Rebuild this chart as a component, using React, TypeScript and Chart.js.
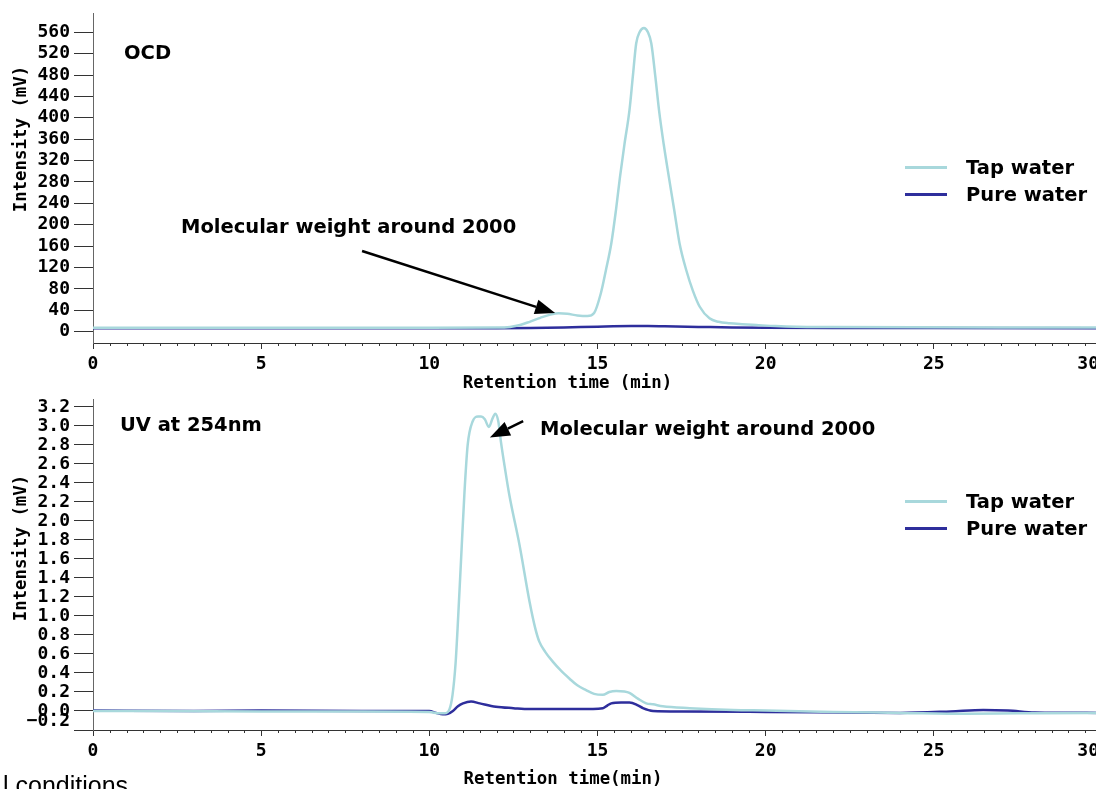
import React, { useEffect, useRef } from 'react';
import { Chart, registerables } from 'chart.js';

Chart.register(...registerables);

// ---------- data ----------
const SERIES_NAMES = ['Tap water', 'Pure water'];
const SERIES_COLORS = ['#a8d8dc', '#2e2e9c'];

const X_TICKS = [0, 5, 10, 15, 20, 25, 30];
const X_MINOR_STEP = 0.5;
const OCD_Y_TICKS = [0, 40, 80, 120, 160, 200, 240, 280, 320, 360, 400, 440, 480, 520, 560];
const UV_Y_TICKS = [-0.2, 0, 0.2, 0.4, 0.6, 0.8, 1.0, 1.2, 1.4, 1.6, 1.8, 2.0, 2.2, 2.4, 2.6, 2.8, 3.0, 3.2];

const OCD_TAP_T = [0, 5, 10, 12.0, 12.4, 12.7, 13.0, 13.3, 13.6, 13.85, 14.1, 14.4, 14.7, 14.9, 15.1, 15.25, 15.41, 15.55, 15.67, 15.8, 15.95, 16.05, 16.15, 16.25, 16.38, 16.5, 16.6, 16.72, 16.83, 16.97, 17.12, 17.28, 17.44, 17.64, 17.84, 18.04, 18.33, 18.6, 18.93, 19.3, 19.72, 20.3, 20.91, 22, 24.4, 27, 30];
const OCD_TAP_V = [7.5, 7.5, 7.5, 7.8, 9, 12.5, 19, 26, 32, 34.4, 33.5, 30.5, 29.3, 35, 72, 115, 165, 228, 290, 350, 414, 477, 539, 560, 568, 560, 539, 477, 414, 350, 290, 228, 165, 115, 76, 46.7, 25, 18.5, 15.7, 14, 12.5, 10.5, 9.3, 8.8, 8.2, 8, 8];

const OCD_PURE_T = [0, 5, 10, 12, 13, 14, 15, 16, 16.5, 17, 18, 19, 20, 22, 25, 30];
const OCD_PURE_V = [6.5, 6.5, 6.5, 6.5, 7, 8, 9.5, 10.5, 10.5, 10, 9, 8, 7.5, 7, 6.8, 6.5];

const UV_TAP_T = [0, 2, 5, 8, 10, 10.3, 10.45, 10.6, 10.69, 10.78, 10.84, 10.94, 11.04, 11.14, 11.29, 11.45, 11.54, 11.65, 11.77, 11.88, 11.96, 12.05, 12.13, 12.25, 12.38, 12.68, 12.98, 13.15, 13.27, 13.45, 13.67, 13.9, 14.17, 14.4, 14.66, 14.9, 15.16, 15.35, 15.56, 15.8, 15.95, 16.2, 16.45, 16.65, 16.94, 17.74, 19.03, 20, 22, 24, 25.97, 27.5, 29.7, 30];
const UV_TAP_V = [0, 0, -0.005, -0.005, -0.01, -0.025, -0.025, 0.02, 0.17, 0.5, 0.87, 1.57, 2.27, 2.8, 3.05, 3.1, 3.1, 3.07, 2.99, 3.08, 3.13, 3.05, 2.83, 2.55, 2.27, 1.75, 1.15, 0.87, 0.73, 0.62, 0.52, 0.43, 0.34, 0.27, 0.22, 0.18, 0.17, 0.2, 0.21, 0.205, 0.19, 0.13, 0.08, 0.07, 0.05, 0.03, 0.01, 0.005, -0.01, -0.02, -0.03, -0.025, -0.02, -0.02];

const UV_PURE_T = [0, 3, 5, 8, 10, 10.2, 10.4, 10.55, 10.7, 10.85, 11.0, 11.24, 11.5, 11.98, 12.5, 12.98, 14.46, 15.16, 15.3, 15.41, 15.7, 15.95, 16.2, 16.35, 16.65, 17.5, 20, 24, 25.5, 26.47, 27.2, 28, 30];
const UV_PURE_V = [0.005, 0, 0.005, 0, 0, -0.02, -0.035, -0.03, 0, 0.05, 0.08, 0.1, 0.08, 0.045, 0.03, 0.02, 0.02, 0.03, 0.06, 0.08, 0.09, 0.09, 0.06, 0.03, 0, -0.005, -0.01, -0.02, -0.005, 0.01, 0.005, -0.015, -0.02];

// annotation arrows, in data units: [tailT, tailV, tipT, tipV]
const OCD_ARROW = [8.0, 151, 13.74, 35];
const UV_ARROW = [12.79, 3.05, 11.8, 2.88];

const ANNOTATION_TEXT = 'Molecular weight around 2000';

// ---------- layout ----------
const CANVAS_W = 1120;
const PLOT_LEFT = 93;
const PLOT_RIGHT = 1102;
const MONO = "'DejaVu Sans Mono', monospace";
const SANS = "'DejaVu Sans', sans-serif";
const MONO_SIZE = 17.4;
const TICK_SIZE = 18;

const minorTickPlugin = {
  id: 'minorTicks',
  afterDraw(chart: any) {
    const xs = chart.scales.x;
    const ctx = chart.ctx;
    ctx.save();
    ctx.strokeStyle = '#333';
    ctx.lineWidth = 1;
    const n = Math.round((xs.max - xs.min) / X_MINOR_STEP);
    for (let i = 0; i <= n; i++) {
      const t = xs.min + i * X_MINOR_STEP;
      if (X_TICKS.includes(t)) continue;
      const px = Math.round(xs.getPixelForValue(t)) + 0.5;
      ctx.beginPath();
      ctx.moveTo(px, xs.top);
      ctx.lineTo(px, xs.top + 3);
      ctx.stroke();
    }
    ctx.restore();
  },
};

const edgeLabelPlugin = {
  id: 'edgeLabels',
  beforeDraw(chart: any, _a: any, opts: any) {
    try {
      const xs = chart.scales.x;
      const xi = xs.getLabelItems();
      const last = xi[xi.length - 1];
      if (last && opts.xLastRight) {
        last.options.textAlign = 'right';
        last.options.translation = [opts.xLastRight, last.options.translation[1]];
      }
      if (opts.yFirstShift) {
        const ys = chart.scales.y;
        const yi = ys.getLabelItems();
        const first = yi[0];
        if (first) {
          first.options.translation = [first.options.translation[0], ys.getPixelForValue(ys.ticks[0].value) - opts.yFirstShift];
        }
      }
    } catch (e) {
      /* ignore */
    }
  },
};

const arrowPlugin = {
  id: 'arrow',
  afterDatasetsDraw(chart: any, _a: any, opts: any) {
    const a = opts.arrow;
    if (!a) return;
    const xs = chart.scales.x;
    const ys = chart.scales.y;
    const x1 = xs.getPixelForValue(a[0]);
    const y1 = ys.getPixelForValue(a[1]);
    const x2 = xs.getPixelForValue(a[2]);
    const y2 = ys.getPixelForValue(a[3]);
    const ang = Math.atan2(y2 - y1, x2 - x1);
    const headLen = 20;
    const headHalf = 7.5;
    const bx = x2 - headLen * Math.cos(ang);
    const by = y2 - headLen * Math.sin(ang);
    const ctx = chart.ctx;
    ctx.save();
    ctx.strokeStyle = '#000';
    ctx.fillStyle = '#000';
    ctx.lineWidth = 2.5;
    ctx.beginPath();
    ctx.moveTo(x1, y1);
    ctx.lineTo(bx, by);
    ctx.stroke();
    ctx.beginPath();
    ctx.moveTo(x2, y2);
    ctx.lineTo(bx + headHalf * Math.sin(ang), by - headHalf * Math.cos(ang));
    ctx.lineTo(bx - headHalf * Math.sin(ang), by + headHalf * Math.cos(ang));
    ctx.closePath();
    ctx.fill();
    ctx.restore();
  },
};

type Series = { t: number[]; v: number[] };

function ChromChart(props: {
  top: number;
  height: number;
  plotTop: number;
  plotBottom: number;
  yMin: number;
  yMax: number;
  yTicks: number[];
  yFormat: (v: number) => string;
  series: Series[];
  arrow: number[];
  yFirstShift: number;
}) {
  const ref = useRef<HTMLCanvasElement | null>(null);
  useEffect(() => {
    if (!ref.current) return;
    const tickFont = { family: MONO, size: TICK_SIZE, weight: 'bold' as const, lineHeight: 1 };
    const chart = new Chart(ref.current, {
      type: 'line',
      data: {
        datasets: props.series.map((s, i) => ({
          label: SERIES_NAMES[i],
          data: s.t.map((t, k) => ({ x: t, y: s.v[k] })),
          borderColor: SERIES_COLORS[i],
          backgroundColor: SERIES_COLORS[i],
          borderWidth: 2.5,
          pointRadius: 0,
          fill: false,
          cubicInterpolationMode: 'monotone' as const,
        })),
      },
      options: {
        responsive: false,
        animation: false,
        devicePixelRatio: 1,
        events: [],
        layout: {
          padding: { top: props.plotTop, right: CANVAS_W - PLOT_RIGHT, left: 0, bottom: 0 },
        },
        plugins: {
          legend: { display: false },
          tooltip: { enabled: false },
          edgeLabels: { xLastRight: 1099, yFirstShift: props.yFirstShift },
          arrow: { arrow: props.arrow },
        } as any,
        scales: {
          x: {
            type: 'linear',
            min: X_TICKS[0],
            max: X_TICKS[X_TICKS.length - 1],
            afterBuildTicks: (s: any) => {
              s.ticks = X_TICKS.map((v) => ({ value: v }));
            },
            afterFit: (s: any) => {
              s.height = props.height - props.plotBottom;
            },
            grid: { drawOnChartArea: false, drawTicks: true, tickLength: 6, tickColor: '#333', tickWidth: 1 },
            border: { color: '#333', width: 1 },
            ticks: {
              font: tickFont,
              color: '#000',
              padding: 6,
              maxRotation: 0,
              autoSkip: false,
              callback: (v: any) => String(v),
            },
          },
          y: {
            type: 'linear',
            min: props.yMin,
            max: props.yMax,
            afterBuildTicks: (s: any) => {
              s.ticks = props.yTicks.map((v) => ({ value: v }));
            },
            afterFit: (s: any) => {
              s.width = PLOT_LEFT;
            },
            grid: { drawOnChartArea: false, drawTicks: true, tickLength: 19, tickColor: '#333', tickWidth: 1 },
            border: { color: '#666', width: 1 },
            ticks: {
              font: tickFont,
              color: '#000',
              padding: 4,
              autoSkip: false,
              callback: (v: any) => props.yFormat(Number(v)),
            },
          },
        },
      } as any,
      plugins: [minorTickPlugin, edgeLabelPlugin, arrowPlugin],
    });
    return () => chart.destroy();
  }, []);
  return (
    <canvas
      ref={ref}
      width={CANVAS_W}
      height={props.height}
      style={{ position: 'absolute', left: 0, top: props.top, width: CANVAS_W, height: props.height }}
    />
  );
}

const boldText: React.CSSProperties = {
  position: 'absolute',
  fontFamily: SANS,
  fontWeight: 'bold',
  fontSize: 19.5,
  lineHeight: '19.5px',
  whiteSpace: 'nowrap',
  color: '#000',
};

const monoText: React.CSSProperties = {
  position: 'absolute',
  fontFamily: MONO,
  fontWeight: 'bold',
  fontSize: MONO_SIZE,
  lineHeight: `${MONO_SIZE}px`,
  whiteSpace: 'nowrap',
  color: '#000',
};

function Legend(props: { top: number }) {
  return (
    <>
      {SERIES_NAMES.map((name, i) => (
        <React.Fragment key={name}>
          <div
            style={{
              position: 'absolute',
              left: 905,
              top: props.top + i * 27 + 6.5,
              width: 42,
              height: 3,
              background: SERIES_COLORS[i],
            }}
          />
          <div style={{ ...boldText, left: 966, top: props.top + i * 27 - 1 }}>{name}</div>
        </React.Fragment>
      ))}
    </>
  );
}

export default function App() {
  const fmtOcd = (v: number) => String(Math.round(v));
  const fmtUv = (v: number) => {
    const s = v.toFixed(1);
    return s === '-0.0' ? '0.0' : s.replace('-', '\u2212');
  };
  return (
    <div
      style={{
        position: 'fixed',
        left: 0,
        top: 0,
        width: 1096,
        height: 789,
        overflow: 'hidden',
        background: '#fff',
      }}
    >
      <ChromChart
        top={0}
        height={375}
        plotTop={13}
        plotBottom={343}
        yMin={-21.1}
        yMax={596}
        yTicks={OCD_Y_TICKS}
        yFormat={fmtOcd}
        series={[
          { t: OCD_TAP_T, v: OCD_TAP_V },
          { t: OCD_PURE_T, v: OCD_PURE_V },
        ]}
        arrow={OCD_ARROW}
        yFirstShift={0}
      />
      <ChromChart
        top={375}
        height={414}
        plotTop={24}
        plotBottom={355}
        yMin={-0.2}
        yMax={3.284}
        yTicks={UV_Y_TICKS}
        yFormat={fmtUv}
        series={[
          { t: UV_TAP_T, v: UV_TAP_V },
          { t: UV_PURE_T, v: UV_PURE_V },
        ]}
        arrow={UV_ARROW}
        yFirstShift={9}
      />

      {/* top panel texts */}
      <div style={{ ...boldText, left: 124, top: 43 }}>OCD</div>
      <div style={{ ...boldText, left: 181, top: 217 }}>{ANNOTATION_TEXT}</div>
      <Legend top={159} />
      <div style={{ ...monoText, left: 567.5, top: 374, transform: 'translateX(-50%)' }}>Retention time (min)</div>
      <div
        style={{
          ...monoText,
          left: 21,
          top: 139,
          transform: 'translate(-50%, -50%) rotate(-90deg)',
        }}
      >
        Intensity (mV)
      </div>

      {/* bottom panel texts */}
      <div style={{ ...boldText, left: 120, top: 415 }}>UV at 254nm</div>
      <div style={{ ...boldText, left: 540, top: 419 }}>{ANNOTATION_TEXT}</div>
      <Legend top={493} />
      <div style={{ ...monoText, left: 563, top: 770, transform: 'translateX(-50%)' }}>Retention time(min)</div>
      <div
        style={{
          ...monoText,
          left: 21,
          top: 548,
          transform: 'translate(-50%, -50%) rotate(-90deg)',
        }}
      >
        Intensity (mV)
      </div>

      <div
        style={{
          position: 'absolute',
          left: 3,
          top: 773,
          fontFamily: "'Liberation Sans', Arial, sans-serif",
          fontSize: 25,
          lineHeight: '25px',
          whiteSpace: 'nowrap',
          color: '#000',
        }}
      >
        l conditions
      </div>
    </div>
  );
}
